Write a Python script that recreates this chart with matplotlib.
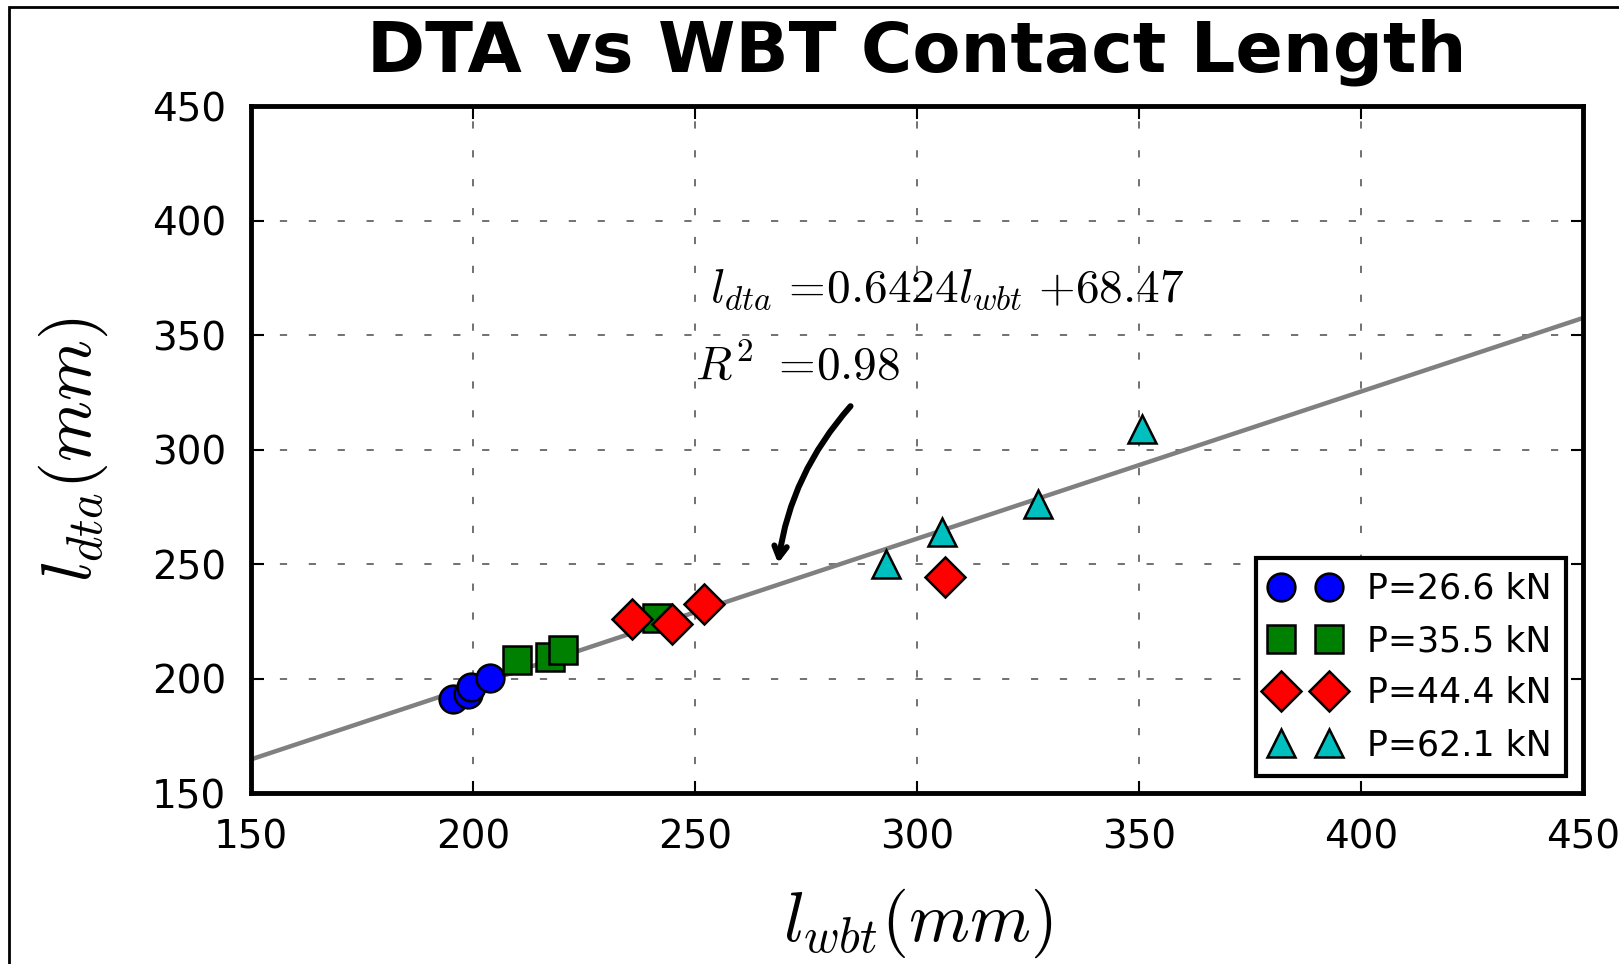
import matplotlib.pyplot as plt
from matplotlib.patches import Rectangle

plt.rcParams['mathtext.fontset'] = 'cm'

# contact length pairs (wbt, dta) in mm for each load
load_labels = ['P=26.6 kN', 'P=35.5 kN', 'P=44.4 kN', 'P=62.1 kN']
wbt_26 = [195.5, 198.9, 199.5, 203.8]
dta_26 = [191.0, 193.5, 196.5, 200.5]
wbt_35 = [209.9, 217.3, 220.3, 241.4]
dta_35 = [208.3, 209.4, 212.6, 226.4]
wbt_44 = [235.8, 244.8, 252.0, 306.3]
dta_44 = [226.0, 223.8, 232.5, 244.3]
wbt_62 = [293.0, 305.6, 327.3, 350.7]
dta_62 = [250.0, 264.0, 276.2, 309.0]

slope = 0.6424
intercept = 68.47
r2 = 0.98
fit_x = [150, 450]

fig = plt.figure(figsize=(16.19, 9.64), dpi=100)
ax = fig.add_axes([0.155, 0.177, 0.823, 0.713])

ax.plot(fit_x, [slope * v + intercept for v in fit_x], color='0.5', lw=3.2, zorder=2)

mk = dict(ls='none', ms=20, mec='k', mew=1.8, zorder=3)
ax.plot(wbt_26, dta_26, 'o', color='b', label=load_labels[0], **mk)
ax.plot(wbt_35, dta_35, 's', color='g', label=load_labels[1], **mk)
ax.plot(wbt_44, dta_44, 'D', color='r', label=load_labels[2], **mk)
ax.plot(wbt_62, dta_62, '^', color='c', label=load_labels[3], **mk)

ax.text(253.4, 364.4, r'$l_{dta}\,=\!%.4fl_{wbt}\ {+}%.2f$' % (slope, intercept), fontsize=34, va='baseline')
ax.text(250.0, 331.0, r'$R^2\ =\!%.2f$' % r2, fontsize=34, va='baseline')
ax.annotate('', xy=(268.7, 250.4), xytext=(285.0, 319.0),
            arrowprops=dict(arrowstyle='->,head_length=0.8,head_width=0.45', lw=4.3, color='k',
                            connectionstyle='arc3,rad=0.15', shrinkA=0, shrinkB=0))

ax.set_xlim(150, 450)
ax.set_ylim(150, 450)
ax.set_xticks(range(150, 451, 50))
ax.set_yticks(range(150, 451, 50))
ax.tick_params(direction='in', length=9, width=1.5, top=True, right=True, labelsize=28, pad=18)
ax.grid(True, color='0.4', ls=(0, (4, 12)), lw=1.3)
for sp in ax.spines.values():
    sp.set_linewidth(3.5)

ax.set_title('DTA vs WBT Contact Length', fontsize=50.5, fontweight='bold', pad=25)
ax.set_xlabel(r'$l_{wbt}(mm)$', fontsize=50, labelpad=22)
ax.set_ylabel(r'$l_{dta}(mm)$', fontsize=50, labelpad=30)

leg = ax.legend(loc='lower right', numpoints=2, fontsize=25, fancybox=False, framealpha=1,
                borderaxespad=0.5, handletextpad=0.8, labelspacing=0.52, borderpad=0.4,
                handlelength=2.0)
leg.get_frame().set_edgecolor('k')
leg.get_frame().set_linewidth(3)

fig.patches.append(Rectangle((9 / 1619, -0.1), 1.2, 1.1 - 7 / 964, transform=fig.transFigure,
                             fill=False, ec='k', lw=2, clip_on=False))

fig.savefig('out.png', dpi=100)
